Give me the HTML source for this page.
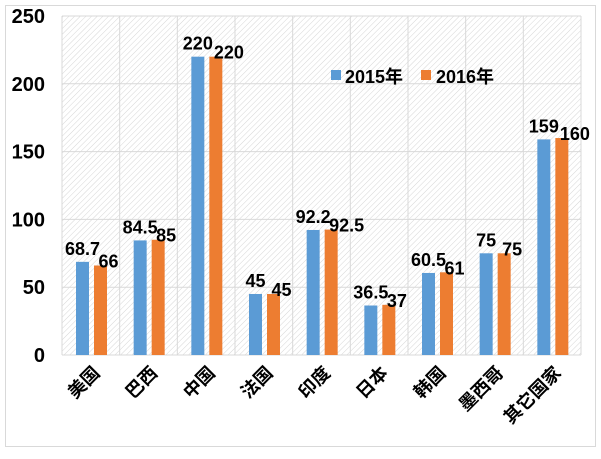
<!DOCTYPE html>
<html><head><meta charset="utf-8"><style>
body{margin:0;background:#fff}
svg text{font-family:"Liberation Sans","Noto Sans CJK SC",sans-serif;font-weight:bold;fill:#000}
</style></head><body>
<svg id="c" width="601" height="454" xmlns="http://www.w3.org/2000/svg">
<defs><pattern id="h" width="4" height="4" patternUnits="userSpaceOnUse" patternTransform="rotate(45)"><line x1="0" y1="0" x2="0" y2="4" stroke="#d6d6d6" stroke-width="1"/></pattern></defs>
<rect x="5.5" y="5.5" width="590" height="441" fill="#fff" stroke="#d9d9d9"/>
<g id="g"></g>
</svg>
<script>
const categories=["美国","巴西","中国","法国","印度","日本","韩国","墨西哥","其它国家"];
const s2015=[68.7,84.5,220,45,92.2,36.5,60.5,75,159];
const s2016=[66,85,220,45,92.5,37,61,75,160];
const ticks=[0,50,100,150,200,250];
const L=62,R=581,T=16,B=355,max=250;
const cw=(R-L)/categories.length;
const y=v=>B-(v/max)*(B-T);
const x=i=>L+i*cw;
const g=document.getElementById('g');
const NS="http://www.w3.org/2000/svg";
function mk(t,a,txt){const e=document.createElementNS(NS,t);for(const k in a)e.setAttribute(k,a[k]);if(txt!==undefined)e.textContent=txt;g.appendChild(e);return e;}
let e=mk('rect',{x:L,y:T,width:R-L,height:B-T,fill:'url(#h)'});


ticks.forEach(t=>{
 let l=mk('line',{x1:L,x2:R,y1:y(t),y2:y(t),stroke:'#d9d9d9'});
 
 
 let tx=mk('text',{x:45,y:y(t)+7,'text-anchor':'end','font-size':'20'},t);
 
 
});
for(let i=0;i<=categories.length;i++){
 let l=mk('line',{x1:x(i),x2:x(i),y1:T,y2:B,stroke:'#d9d9d9'});
 
 
}
categories.forEach((c,i)=>{
 const bx=x(i)+14, ox=x(i)+32, bw=13;
 let b=mk('rect',{x:bx,y:y(s2015[i]),width:bw,height:B-y(s2015[i]),fill:'#5b9bd5'});
 
 
 let o=mk('rect',{x:ox,y:y(s2016[i]),width:bw,height:B-y(s2016[i]),fill:'#ed7d31'});
 
 
 let t1=mk('text',{x:bx+bw/2,y:y(s2015[i])-7,'text-anchor':'middle','font-size':'18'},s2015[i]);
 
 
 let t2=mk('text',{x:ox+bw/2-2,y:y(s2016[i])+2,'text-anchor':'start','font-size':'18'},s2016[i]);
 
 
 const cx=x(i)+cw/2+10;
 let cl=mk('text',{x:cx,y:374,'text-anchor':'end','font-size':'18',transform:`rotate(-45 ${cx} 374)`},c);
 
 
});
let ls=mk('rect',{x:331,y:70,width:10,height:10,fill:'#5b9bd5'});


let lt=mk('text',{x:345,y:83,'font-size':'18'},'2015年');


let os=mk('rect',{x:421,y:70,width:10,height:10,fill:'#ed7d31'});


let ot=mk('text',{x:436,y:83,'font-size':'18'},'2016年');


</script>
</body></html>
